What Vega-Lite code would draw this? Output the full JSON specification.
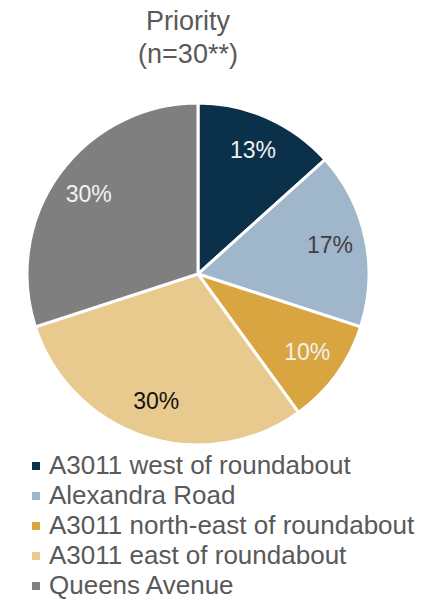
{
  "$schema": "https://vega.github.io/schema/vega-lite/v6.json",
  "width": 396,
  "height": 342,
  "autosize": {"type": "none"},
  "padding": {"left": 0, "top": 103, "right": 25, "bottom": 155},
  "background": "white",
  "config": {"view": {"stroke": null}, "font": "Liberation Sans"},
  "title": {
    "text": ["Priority", "(n=30**)"],
    "fontSize": 27,
    "fontWeight": "normal",
    "color": "#595959",
    "font": "Liberation Sans",
    "anchor": "middle",
    "lineHeight": 33,
    "offset": 28,
    "dx": -10
  },
  "data": {
    "values": [
      {"idx": 1, "category": "A3011 west of roundabout", "count": 4, "label": "13%"},
      {"idx": 2, "category": "Alexandra Road", "count": 5, "label": "17%"},
      {"idx": 3, "category": "A3011 north-east of roundabout", "count": 3, "label": "10%"},
      {"idx": 4, "category": "A3011 east of roundabout", "count": 9, "label": "30%"},
      {"idx": 5, "category": "Queens Avenue", "count": 9, "label": "30%"}
    ]
  },
  "encoding": {
    "theta": {"field": "count", "type": "quantitative", "stack": true},
    "order": {"field": "idx", "type": "quantitative"}
  },
  "layer": [
    {
      "mark": {"type": "arc", "outerRadius": 171, "stroke": "white", "strokeWidth": 3},
      "encoding": {
        "color": {
          "field": "category",
          "type": "nominal",
          "sort": null,
          "scale": {
            "domain": ["A3011 west of roundabout", "Alexandra Road", "A3011 north-east of roundabout", "A3011 east of roundabout", "Queens Avenue"],
            "range": ["#0b3049", "#a0b6ca", "#d9a541", "#e8ca8e", "#7f7f7f"]
          },
          "legend": {
            "orient": "none",
            "legendX": 23,
            "legendY": 350,
            "title": null,
            "labelFontSize": 26,
            "labelColor": "#595959",
            "labelFont": "Liberation Sans",
            "symbolType": "square",
            "symbolSize": 64,
            "symbolStrokeWidth": 0,
            "rowPadding": 4,
            "labelLimit": 500,
            "labelOffset": 0
          }
        }
      }
    },
    {
      "mark": {"type": "text", "radius": 135, "fontSize": 23, "font": "Liberation Sans"},
      "encoding": {
        "text": {"field": "label", "type": "nominal"},
        "color": {
          "condition": [
            {"test": "datum.idx == 2", "value": "#404040"},
            {"test": "datum.idx == 4", "value": "#111111"}
          ],
          "value": "#f2f2f2"
        }
      }
    }
  ]
}
